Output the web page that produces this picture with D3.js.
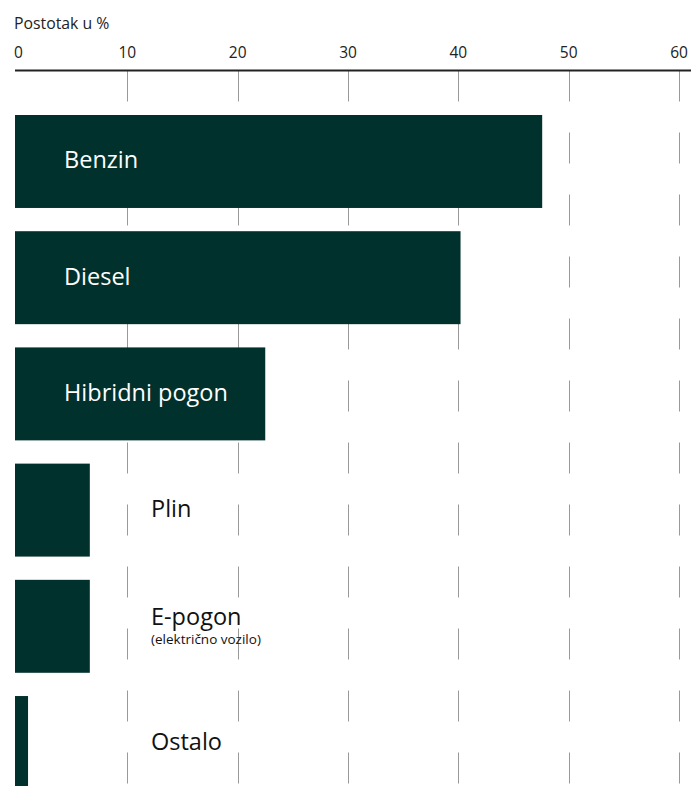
<!DOCTYPE html>
<html>
<head>
<meta charset="utf-8">
<script src="https://cdn.jsdelivr.net/npm/d3@7/dist/d3.min.js"></script>
<style>
  html, body { margin: 0; padding: 0; background: #fff; }
  body { font-family: "Open Sans", sans-serif; }
</style>
</head>
<body>
<div id="chart"></div>
<script>
// Categories and values (percent)
const categories = ['Benzin', 'Diesel', 'Hibridni pogon', 'Plin', 'E-pogon', 'Ostalo'];
const values = [47.6, 40.2, 22.5, 6.6, 6.6, 1.0];
const subLabels = ['', '', '', '', '(električno vozilo)', ''];
const ticks = [0, 10, 20, 30, 40, 50, 60];
const axisTitle = 'Postotak u %';

const width = 691;
const height = 786;
const barColor = '#01312c';

const svg = d3.select('#chart')
    .append('svg')
    .attr('width', width)
    .attr('height', height);

const x = d3.scaleLinear()
    .domain([0, 60])
    .range([17, 679]);

const y = d3.scaleBand()
    .domain(categories)
    .range([115, 789])
    .paddingInner(0.2)
    .paddingOuter(0);

const axisY = 70.5;

// Title
svg.append('text')
    .attr('x', 14)
    .attr('y', 29)
    .attr('font-size', 15.8)
    .attr('fill', '#222')
    .text(axisTitle);

// Dashed grid lines (behind bars)
svg.append('g')
    .selectAll('line')
    .data(ticks.filter(d => d > 0))
    .enter()
    .append('line')
    .attr('x1', d => Math.round(x(d)) + 0.5)
    .attr('x2', d => Math.round(x(d)) + 0.5)
    .attr('y1', axisY)
    .attr('y2', height)
    .attr('stroke', '#999')
    .attr('stroke-width', 1)
    .attr('stroke-dasharray', '31,31');

// Tick labels
svg.append('g')
    .selectAll('text')
    .data(ticks)
    .enter()
    .append('text')
    .attr('x', d => d === 0 ? 14 : x(d))
    .attr('y', 58.3)
    .attr('text-anchor', d => d === 0 ? 'start' : 'middle')
    .attr('font-size', 15.5)
    .attr('fill', '#222')
    .text(d => d);

// Axis line
svg.append('line')
    .attr('x1', 15)
    .attr('x2', width)
    .attr('y1', axisY)
    .attr('y2', axisY)
    .attr('stroke', '#222')
    .attr('stroke-width', 2);

// Bars
svg.append('g')
    .selectAll('rect')
    .data(categories)
    .enter()
    .append('rect')
    .attr('x', 15)
    .attr('y', d => y(d))
    .attr('width', (d, i) => x(values[i]) - 15)
    .attr('height', y.bandwidth())
    .attr('fill', barColor);

// Category labels
const labels = svg.append('g')
    .selectAll('g')
    .data(categories)
    .enter()
    .append('g');

labels.append('text')
    .attr('x', (d, i) => values[i] > 15 ? 64 : 151)
    .attr('y', (d, i) => y(d) + y.bandwidth() / 2 + (subLabels[i] ? -1.5 : 7))
    .attr('font-size', 23.5)
    .attr('fill', (d, i) => values[i] > 15 ? '#fff' : '#111')
    .text(d => d);

labels.filter((d, i) => subLabels[i])
    .append('text')
    .attr('x', 151)
    .attr('y', d => y(d) + y.bandwidth() / 2 + 18)
    .attr('font-size', 13.5)
    .attr('fill', '#111')
    .text(d => subLabels[categories.indexOf(d)]);
</script>
</body>
</html>
